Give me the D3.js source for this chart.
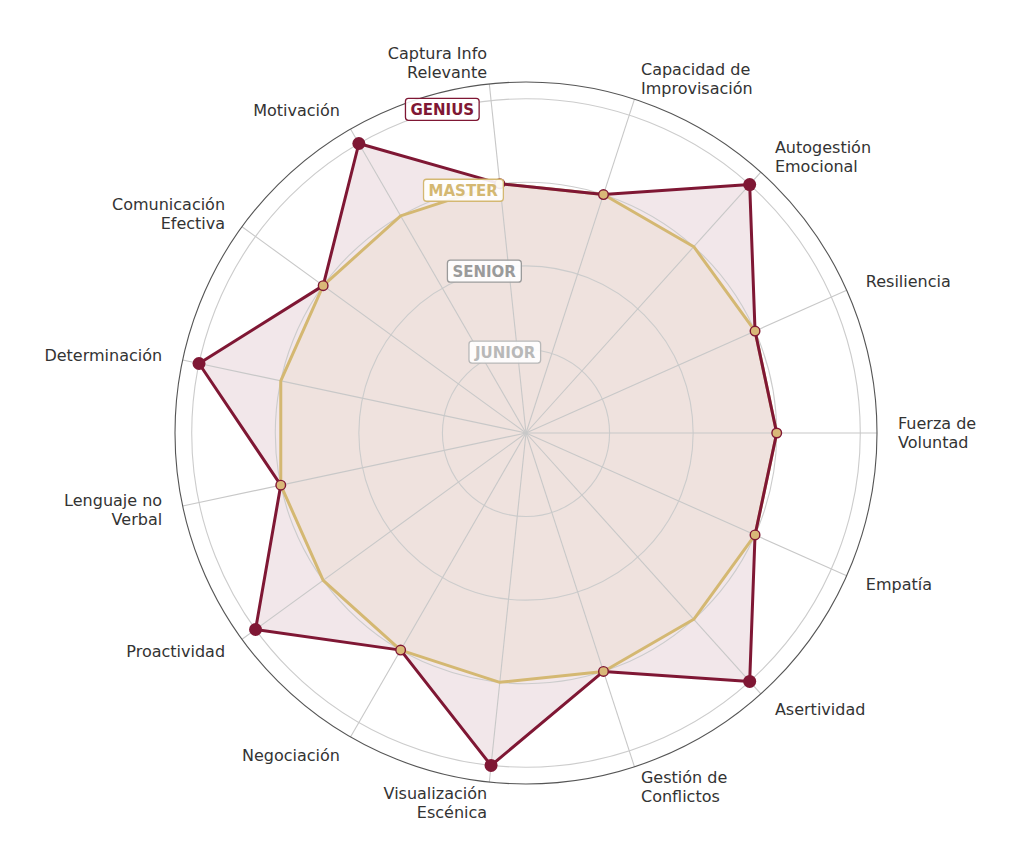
<!DOCTYPE html>
<html><head><meta charset="utf-8">
<script src="https://cdn.jsdelivr.net/npm/d3@7"></script>
<style>body{margin:0;background:#fff}svg{display:block}</style>
</head><body>
<svg id="c" width="1024" height="868"></svg>
<script>
const categories = [
  ["Captura Info","Relevante"],["Capacidad de","Improvisación"],["Autogestión","Emocional"],
  ["Resiliencia"],["Fuerza de","Voluntad"],["Empatía"],["Asertividad"],["Gestión de","Conflictos"],
  ["Visualización","Escénica"],["Negociación"],["Proactividad"],["Lenguaje no","Verbal"],
  ["Determinación"],["Comunicación","Efectiva"],["Motivación"]
];
const geniusValues = [3,3,4,3,3,3,4,3,4,3,4,3,4,3,4];
const masterValues = [3,3,3,3,3,3,3,3,3,3,3,3,3,3,3];
const levelNames = ["JUNIOR","SENIOR","MASTER","GENIUS"];
const levelValues = [1,2,3,4];
const levelColors = ["#b8b8b8","#9a9a9a","#d4b872","#7f1734"];

const svg = d3.select("#c");
const cx = 526, cy = 433;
const r = d3.scaleLinear().domain([0,4.2]).range([0,351]);
const N = categories.length;
const startDeg = -6;
const ang = d3.scaleLinear().domain([0,N]).range([startDeg*Math.PI/180, startDeg*Math.PI/180 + 2*Math.PI]);
const g = svg.append("g").attr("transform",`translate(${cx},${cy})`);
const px = (i,v)=> r(v)*Math.sin(ang(i));
const py = (i,v)=> -r(v)*Math.cos(ang(i));

const radial = d3.lineRadial().angle((d,i)=>ang(i)).radius(d=>r(d)).curve(d3.curveLinearClosed);

// fills
g.append("path").attr("d",radial(geniusValues)).attr("fill","#7f1734").attr("fill-opacity",0.1);
g.append("path").attr("d",radial(masterValues)).attr("fill","#d4b872").attr("fill-opacity",0.1);

// grid circles
g.selectAll("circle.grid").data(levelValues).join("circle")
  .attr("r",d=>r(d)).attr("fill","none").attr("stroke","#cccccc").attr("stroke-width",1.1);
// radial lines
g.selectAll("line.ax").data(d3.range(N)).join("line")
  .attr("x1",0).attr("y1",0).attr("x2",i=>px(i,4.2)).attr("y2",i=>py(i,4.2))
  .attr("stroke","#c8c8c8").attr("stroke-width",1.1);
// outer circle
g.append("circle").attr("r",r(4.2)).attr("fill","none").attr("stroke","#555").attr("stroke-width",1.1);

// gold line
g.append("path").attr("d",radial(masterValues)).attr("fill","none").attr("stroke","#d4b872").attr("stroke-width",3).attr("stroke-linejoin","round");
// red line
g.append("path").attr("d",radial(geniusValues)).attr("fill","none").attr("stroke","#7f1734").attr("stroke-width",3).attr("stroke-linejoin","round");

// markers
g.selectAll("circle.pt").data(geniusValues).join("circle")
  .attr("cx",(d,i)=>px(i,d)).attr("cy",(d,i)=>py(i,d))
  .attr("r",d=>d>=4?6.5:4.8)
  .attr("fill",d=>d>=4?"#7f1734":"#d9b878")
  .attr("stroke","#7f1734").attr("stroke-width",d=>d>=4?0:1.4);

// category labels
const labR = 372;
categories.forEach((lines,i)=>{
  const a = ang(i);
  const x = labR*Math.sin(a), y = -labR*Math.cos(a);
  const s = Math.sin(a);
  const anchor = Math.abs(s)<0.02 ? "middle" : (s>0 ? "start":"end");
  const lh = 19;
  const t = g.append("text").attr("x",x).attr("y",y)
    .attr("text-anchor",anchor).attr("font-family","DejaVu Sans, sans-serif")
    .attr("font-size",16).attr("fill","#333");
  lines.forEach((ln,k)=>{
    t.append("tspan").attr("x",x).attr("y",y + (k-(lines.length-1)/2)*lh).attr("dy","0.35em").text(ln);
  });
});

// level labels
const lvlAng = -14.5*Math.PI/180;
levelValues.forEach((v,k)=>{
  const x = r(v)*Math.sin(lvlAng), y = -r(v)*Math.cos(lvlAng);
  const lg = g.append("g");
  const t = lg.append("text").attr("x",x).attr("y",y).attr("dy","0.36em")
    .attr("text-anchor","middle").attr("font-family","DejaVu Sans, sans-serif")
    .attr("font-weight","bold").attr("font-size",15).attr("fill",levelColors[k]).text(levelNames[k]);
  const bb = t.node().getBBox();
  lg.insert("rect","text").attr("x",bb.x-5).attr("y",y-11).attr("width",bb.width+10).attr("height",22)
    .attr("rx",3).attr("fill","#fff").attr("fill-opacity",0.9).attr("stroke",levelColors[k]).attr("stroke-width",1.3);
});
</script>
</body></html>
